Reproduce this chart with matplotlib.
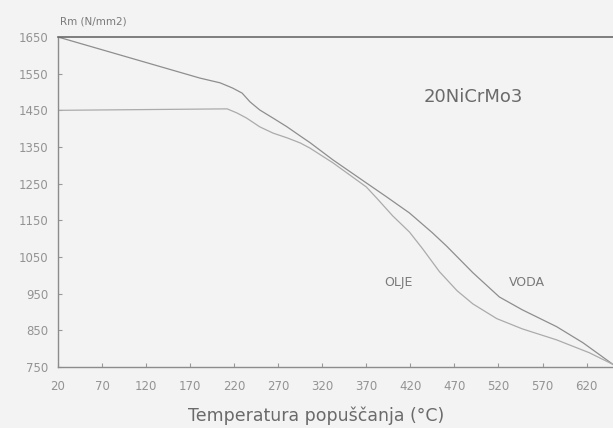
import matplotlib
matplotlib.use("Agg")
import matplotlib.pyplot as plt

# ── Data (Rm in N/mm2 vs tempering temperature) ──
VODA_T = [20, 181, 204, 218, 229, 238, 249, 264, 280, 295, 306, 332, 370,
          393, 419, 445, 461, 491, 521, 547, 586, 616, 650]
VODA_RM = [1650, 1538, 1525, 1511, 1497, 1473, 1451, 1429, 1405, 1380, 1362,
           1315, 1252, 1214, 1170, 1116, 1080, 1007, 941, 906, 860, 816, 757]

OLJE_T = [20, 212, 223, 234, 249, 264, 280, 295, 306, 332, 370, 382, 400,
          419, 434, 453, 473, 491, 518, 547, 586, 623, 650]
OLJE_RM = [1450, 1454, 1443, 1429, 1405, 1388, 1375, 1361, 1347, 1307, 1241,
           1210, 1162, 1118, 1072, 1010, 958, 922, 882, 854, 824, 789, 757]

X_TICKS = list(range(20, 621, 50))
Y_TICKS = list(range(750, 1651, 100))

BG = "#f3f3f3"
GREY = "#7a7a7a"

fig = plt.figure(figsize=(6.13, 4.28), dpi=100, facecolor=BG)
ax = fig.add_axes([58 / 613, 1 - 367 / 428, 1 - 58 / 613, 330 / 428], facecolor=BG)

ax.plot(VODA_T, VODA_RM, color="#8e8e8e", lw=0.9)
ax.plot(OLJE_T, OLJE_RM, color="#ababab", lw=0.9)

ax.set_xlim(20, 650)
ax.set_ylim(750, 1650)
ax.set_xticks(X_TICKS)
ax.set_yticks(Y_TICKS)
ax.tick_params(direction="in", length=3, colors="#999999", labelcolor="#939393",
               labelsize=8.5)
ax.tick_params(axis="x", pad=9)
ax.tick_params(axis="y", pad=7)

for side in ["left", "bottom"]:
    ax.spines[side].set_color("#8c8c8c")
    ax.spines[side].set_linewidth(1.0)
ax.spines["top"].set_color("#6a6a6a")
ax.spines["top"].set_linewidth(1.2)
ax.spines["right"].set_visible(False)

ax.text(492, 1486, "20NiCrMo3", fontsize=13, color="#6a6a6a",
        ha="center", va="center")
ax.text(407, 980, "OLJE", fontsize=9, color=GREY, ha="center", va="center")
ax.text(552, 980, "VODA", fontsize=9, color=GREY, ha="center", va="center")

fig.text(60 / 613, 1 - 22 / 428, "Rm (N/mm2)", fontsize=7.5, color=GREY,
         ha="left", va="center")
fig.text(316 / 613, 1 - 416 / 428, "Temperatura popuščanja (°C)", fontsize=12.5,
         color="#6a6a6a", ha="center", va="center")

fig.savefig("out.png", dpi=100, facecolor=BG)
